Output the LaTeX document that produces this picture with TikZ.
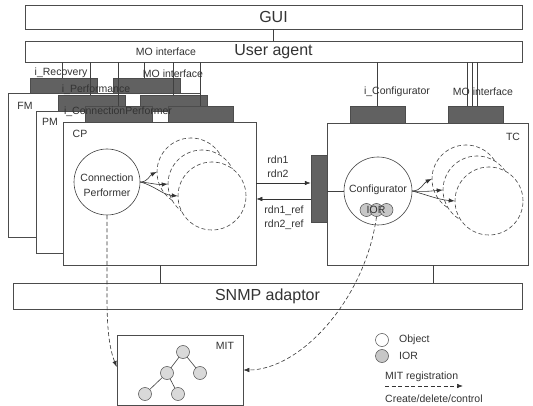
\documentclass[tikz,border=0pt]{standalone}
\usepackage{fontspec}
\setmainfont{Liberation Sans}
\usetikzlibrary{arrows.meta}
\begin{document}
\begin{tikzpicture}[x=1pt,y=-1pt,
  ln/.style={draw=black!75, line width=0.6pt},
  rect/.style={draw=black!70, fill=white, line width=0.6pt, inner sep=0pt},
  dark/.style={draw=black!70, fill=black!62, line width=0.5pt, inner sep=0pt},
  big/.style={font=\fontsize{16}{18}\selectfont, text=black!80},
  lbl/.style={font=\fontsize{10.5}{15}\selectfont, text=black!80, inner sep=0pt},
  solidc/.style={circle, draw=black!75, fill=white, line width=0.6pt, inner sep=0pt},
  dashc/.style={circle, draw=black!75, fill=white, line width=0.6pt, dash pattern=on 4pt off 2.5pt, inner sep=0pt, minimum size=68pt},
  small/.style={circle, draw=black!70, line width=0.5pt, inner sep=0pt, minimum size=13pt},
  arr/.style={draw=black!80, line width=0.6pt, -{Latex[length=6pt,width=4.5pt]}},
  dasharr/.style={arr, dash pattern=on 4pt off 2.5pt}]
\useasboundingbox (0,0) rectangle (533,406);

% top bars
\node[rect, minimum width=497pt, minimum height=24pt, big] (gui) at (273.5,17) {GUI};
\node[rect, minimum width=497pt, minimum height=21pt, big] (ua) at (273.5,51.5) {User agent};
\draw[ln] (gui.south) -- (ua.north);
\node[lbl] (moUA) at (166,52) {MO interface};

% x positions of the interface wires
\coordinate (xa) at (62,0);
\coordinate (xb) at (90,0);
\coordinate (xc) at (118,0);
\coordinate (xd) at (144,0);
\coordinate (xe) at (173,0);
\coordinate (xf) at (200,0);
\coordinate (xg) at (377,0);
\coordinate (xh) at (467,0);
\coordinate (xi) at (472,0);
\coordinate (xj) at (477,0);

% FM layer
\node[dark, minimum width=67pt, minimum height=15pt] (fmA) at (63.5,85.5) {};
\node[dark, minimum width=67pt, minimum height=15pt] (fmB) at (146.5,85.5) {};
\draw[ln] (ua.south -| xa) -- (fmA.north -| xa);
\draw[ln] (ua.south -| xd) -- (fmB.north -| xd);
\node[rect, minimum width=192pt, minimum height=144pt] (fm) at (104,165) {};
% PM layer
\node[dark, minimum width=67pt, minimum height=16pt] (pmA) at (91.5,103) {};
\node[dark, minimum width=67pt, minimum height=16pt] (pmB) at (173.5,103) {};
\draw[ln] (ua.south -| xb) -- (pmA.north -| xb);
\draw[ln] (ua.south -| xe) -- (pmB.north -| xe);
\node[rect, minimum width=192pt, minimum height=142pt] (pm) at (132,182) {};
% CP layer
\node[dark, minimum width=67pt, minimum height=16pt] (cpA) at (118.5,114) {};
\node[dark, minimum width=65pt, minimum height=16pt] (cpB) at (200.5,114) {};
\draw[ln] (ua.south -| xc) -- (cpA.north -| xc);
\draw[ln] (ua.south -| xf) -- (cpB.north -| xf);
\node[rect, minimum width=193pt, minimum height=143pt] (cp) at (159.5,193.5) {};

% layer labels
\node[lbl] (tFM) at (25,106) {FM};
\node[lbl] (tPM) at (50,122) {PM};
\node[lbl] (tCP) at (80,134) {CP};
\node[lbl] (iRec) at (61,73) {i\_Recovery};
\node[lbl] (moFM) at (173,74) {MO interface};
\node[lbl] (iPerf) at (96,90) {i\_Performance};
\node[lbl] (iCP) at (118,112) {i\_ConnectionPerformer};

% CP contents
\node[solidc, minimum size=66pt] (cpc) at (107,182) {};
\node[lbl, align=center] (cpct) at (107,185) {Connection\\Performer};
\node[dashc] (d1) at (191,172) {};
\node[dashc] (d2) at (202,184) {};
\node[dashc] (d3) at (212,196) {};
\draw[arr] (cpc.east) to[out=0,in=205] (d1.west);
\draw[arr] (cpc.east) to[out=-5,in=185] (d2.west);
\draw[arr] (cpc.east) to[out=-15,in=175] (d3.west);

% TC
\node[dark, minimum width=55pt, minimum height=17pt] (iconf) at (377.5,114.5) {};
\node[dark, minimum width=55pt, minimum height=17pt] (moTC) at (475.5,114.5) {};
\draw[ln] (ua.south -| xg) -- (iconf.north -| xg);
\draw[ln] (ua.south -| xh) -- (moTC.north -| xh);
\draw[ln] (ua.south -| xi) -- (moTC.north -| xi);
\draw[ln] (ua.south -| xj) -- (moTC.north -| xj);
\node[lbl] (tIconf) at (397,92) {i\_Configurator};
\node[lbl] (tMoTC) at (483,92) {MO interface};
\node[rect, minimum width=201pt, minimum height=142pt] (tc) at (427.5,194) {};
\node[lbl] (tTC) at (513,137) {TC};
\node[dark, minimum width=16pt, minimum height=67pt] (conn) at (319,188.5) {};
\node[solidc, minimum size=68pt] (conf) at (378,191) {};
\draw[ln] (conn.east |- conf.west) -- (conf.west);
\node[small, fill=black!22] (ior1) at (366.5,210) {};
\node[small, fill=black!22] (ior2) at (376.5,210) {};
\node[small, fill=black!22] (ior3) at (386.5,210) {};
\node[lbl] (iort) at (376,210) {IOR};
\node[lbl] (conft) at (378,190) {Configurator};
\node[dashc] (t1) at (466,179) {};
\node[dashc] (t2) at (477,190) {};
\node[dashc] (t3) at (489,201) {};
\draw[arr] (conf.east) to[out=0,in=205] (t1.west);
\draw[arr] (conf.east) to[out=-5,in=185] (t2.west);
\draw[arr] (conf.east) to[out=-15,in=175] (t3.west);

% rdn arrows
\coordinate (yup) at (0,183);
\coordinate (ylo) at (0,199);
\draw[arr] (cp.east |- yup) -- (conn.west |- yup);
\draw[arr] (conn.west |- ylo) -- (cp.east |- ylo);
\node[lbl] (r1) at (278,160) {rdn1};
\node[lbl] (r2) at (278,174) {rdn2};
\node[lbl] (r1r) at (284,211) {rdn1\_ref};
\node[lbl] (r2r) at (284,225) {rdn2\_ref};

% SNMP
\node[rect, minimum width=509pt, minimum height=26pt, big] (snmp) at (267.5,296) {SNMP adaptor};
\coordinate (xcp) at (160,0);
\coordinate (xtc) at (433,0);
\draw[ln] (cp.south -| xcp) -- (snmp.north -| xcp);
\draw[ln] (tc.south -| xtc) -- (snmp.north -| xtc);

% MIT
\node[rect, minimum width=126pt, minimum height=70pt] (mit) at (180,370) {};
\node[lbl] (mitt) at (225,346) {MIT};
\node[small, fill=black!15] (n1) at (183,352) {};
\node[small, fill=black!15] (n2) at (167,373) {};
\node[small, fill=black!15] (n3) at (200,373) {};
\node[small, fill=black!15] (n4) at (145,394) {};
\node[small, fill=black!15] (n5) at (178,394) {};
\draw[ln] (n1) -- (n2);
\draw[ln] (n1) -- (n3);
\draw[ln] (n2) -- (n4);
\draw[ln] (n2) -- (n5);

% MIT registration arrows
\coordinate (ym1) at (0,367);
\coordinate (ym2) at (0,370);
\draw[dasharr] (cpc.south) -- (107,300) .. controls (107,340) and (112,355) .. (mit.west |- ym1);
\draw[dasharr] (ior2.south) .. controls (365,300) and (300,370) .. (mit.east |- ym2);

% legend
\node[small, fill=white] (lo) at (382,340) {};
\node[lbl, anchor=west] (lot) at (399,340) {Object};
\node[small, fill=black!22] (li) at (382,356) {};
\node[lbl, anchor=west] (lit) at (399,356) {IOR};
\node[lbl, anchor=west] (lmr) at (385,377) {MIT registration};
\coordinate (la) at (385,386);
\coordinate (lb) at (463,386);
\draw[dasharr] (la) -- (lb);
\node[lbl, anchor=west] (lcd) at (385,399) {Create/delete/control};
\end{tikzpicture}
\end{document}
